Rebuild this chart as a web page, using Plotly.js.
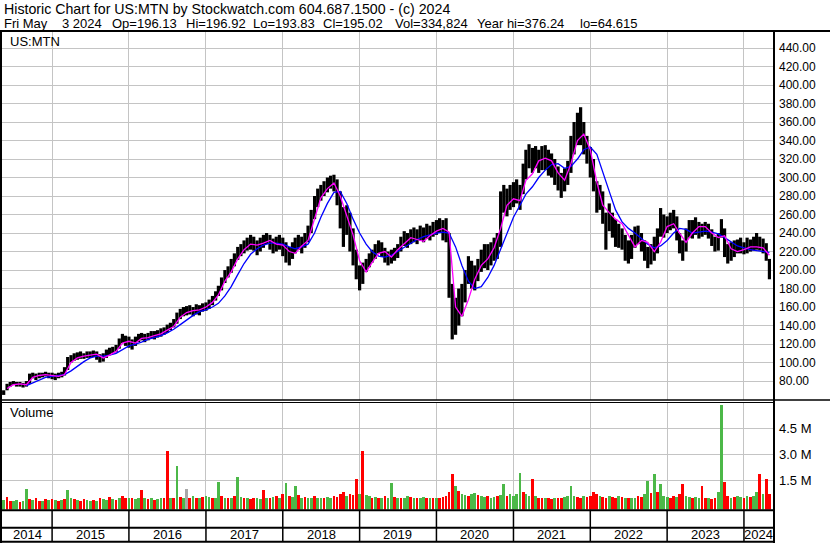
<!DOCTYPE html>
<html><head><meta charset="utf-8">
<script src="https://cdn.plot.ly/plotly-3.0.1.min.js"></script>
<style>html,body{margin:0;padding:0;background:#fff;overflow:hidden}#chart{width:830px;height:543px}</style>
</head><body><div id="chart"></div>
<script>
// ---- DATA (semi-monthly, 1st & 16th, from 2014-05-16 to 2024-05-01) ----
const priceClose = [
 68,74,77,78,76,77,75,78,86,87,84,86,87,88,86,
 86,84,86,87,90,102,104,106,107,108,107,109,108,110,107,104,106,110,112,113,115,122,126,124,
 122,120,124,127,128,126,128,130,129,131,133,134,138,140,143,150,153,155,156,157,155,158,157,160,
 161,163,168,172,178,186,195,198,205,212,218,222,226,228,230,228,224,228,232,235,230,226,228,230,
 226,218,215,222,228,230,226,232,240,258,270,278,285,288,292,296,295,282,265,248,255,240,220,205,
 190,200,205,210,215,220,225,222,215,212,214,216,220,228,234,232,235,238,236,240,238,242,240,244,
 245,248,242,240,200,140,150,160,165,180,205,195,190,200,210,215,212,215,220,225,265,275,270,278,
 280,285,278,300,315,325,320,322,318,322,320,315,312,305,300,290,298,305,325,345,355,360,340,330,
 315,295,275,280,262,240,255,245,238,235,232,220,215,225,238,240,228,218,210,215,225,238,255,245,
 250,255,258,240,225,215,235,245,242,248,240,245,244,240,232,225,230,248,220,215,218,222,228,225,
 222,228,226,230,232,228,224,220,195];
const priceHigh = [
 70,77,79,80,79,79,78,80,88,89,88,89,89,90,89,
 89,88,89,90,95,106,108,110,111,112,110,112,112,113,112,109,110,114,116,117,119,126,131,129,
 128,125,128,131,132,131,132,134,134,135,137,138,141,143,147,154,158,160,161,162,160,163,162,164,
 165,168,172,177,183,192,200,204,212,218,225,228,232,235,238,236,232,235,238,240,238,234,236,238,
 235,230,225,230,235,238,236,240,248,265,280,288,292,296,300,302,303,298,285,268,270,262,245,222,
 205,208,212,218,222,228,232,230,224,220,222,224,228,236,242,240,244,246,244,248,246,250,248,252,
 254,256,254,256,240,185,170,180,185,200,215,210,205,212,222,228,228,230,235,240,285,292,288,292,
 295,298,292,315,330,336,332,334,330,334,335,330,326,320,312,305,310,318,345,360,370,376,360,345,
 333,320,296,292,285,262,272,262,255,250,245,238,232,238,247,248,240,232,225,228,236,245,267,260,
 258,262,265,258,240,232,245,254,254,257,252,250,252,250,244,236,240,255,245,228,230,232,233,235,
 230,235,233,236,240,236,234,229,212];
const priceLow = [
 65,70,74,76,74,74,73,74,77,83,81,83,84,85,83,
 82,81,83,84,86,92,100,102,103,104,104,105,105,106,103,100,101,105,108,110,111,115,121,118,
 116,114,118,122,124,122,124,126,125,127,128,130,132,135,138,142,147,150,151,152,150,152,151,155,
 156,158,162,167,172,178,186,192,197,204,211,215,218,221,222,221,216,220,224,228,222,218,220,222,
 215,208,205,212,218,222,218,224,230,240,255,268,275,280,284,288,285,270,245,225,238,220,205,190,
 178,185,198,203,208,212,218,214,208,205,207,210,213,220,226,224,228,230,228,232,230,234,232,236,
 238,240,232,230,170,125,130,140,150,165,185,180,178,188,198,202,200,205,210,212,225,262,258,265,
 268,272,265,282,298,310,305,310,305,308,308,302,300,292,286,278,285,292,305,325,335,335,325,315,
 300,285,262,265,250,222,242,235,225,224,222,210,207,212,224,228,220,210,202,206,210,218,236,235,
 240,243,245,232,218,210,220,235,234,238,234,236,238,234,226,220,221,235,214,207,210,214,218,218,
 217,218,220,221,222,221,218,210,190];
// volume in millions of shares, same dates
const volumeM = [
 0.35,0.55,0.3,0.3,0.35,0.25,0.3,1.0,0.4,0.35,0.45,0.3,0.3,0.4,0.35,
 0.4,0.35,0.3,0.35,0.4,0.95,0.5,0.4,0.35,0.3,0.4,0.35,0.3,0.35,0.3,0.45,0.4,0.35,0.55,0.4,0.35,0.5,0.6,0.45,
 0.45,0.5,0.4,0.45,0.93,0.5,0.4,0.45,0.35,0.4,0.5,0.45,3.2,0.5,0.45,2.3,0.55,0.45,1.0,0.5,0.6,0.45,0.5,0.55,
 0.6,0.55,0.5,0.45,1.4,0.6,0.5,0.45,0.5,0.6,1.7,0.55,0.5,0.45,0.4,0.5,0.45,0.4,0.94,0.5,0.45,0.55,0.6,0.5,
 0.7,1.35,0.6,0.55,1.2,0.65,0.5,0.55,0.45,0.5,0.6,0.45,0.5,0.45,0.55,0.5,0.6,0.55,0.7,0.8,0.6,0.7,0.65,1.6,
 0.7,3.2,0.65,0.6,0.5,0.55,0.45,0.5,0.6,0.5,1.35,0.55,0.5,0.45,0.5,0.6,0.55,0.45,0.5,0.45,0.55,0.5,0.45,0.5,
 0.45,0.5,0.55,0.6,0.8,1.86,1.2,0.9,0.7,0.65,0.6,0.7,0.75,0.65,0.6,0.55,0.6,0.5,0.55,0.6,0.65,1.3,0.6,0.7,
 0.6,0.7,1.9,0.8,0.7,0.6,1.6,0.6,0.5,0.45,0.5,0.45,0.4,0.5,0.45,0.5,0.55,0.6,1.2,0.6,0.55,0.5,0.6,0.55,
 0.6,0.8,0.7,0.6,0.55,0.5,0.6,0.55,0.5,0.6,0.55,0.45,0.5,0.45,0.5,0.6,0.55,0.7,1.45,0.75,1.85,0.8,1.3,0.6,
 0.55,0.5,0.6,0.55,0.7,1.3,0.6,0.55,0.5,0.55,0.5,1.2,0.5,0.45,0.4,0.45,0.8,5.85,1.4,0.6,0.5,0.55,0.6,0.55,
 0.5,0.6,0.55,0.6,0.8,1.85,0.7,1.6,0.7];
// u = up (green), d = down (red), n = unchanged (grey)
const volumeDir = "udduuduududdudu" +
 "dududu"+"ududdu"+"ududuu"+"dududd" +
 "uduudu"+"duduud"+"dududu"+"ndudud" +
 "uuduud"+"ududuu"+"dudduu"+"dududu" +
 "duduud"+"uduudu"+"uduudd"+"dduddd" +
 "uduudu"+"duduud"+"uduudu"+"duudud" +
 "uddddd"+"uduudu"+"uduudu"+"uduudu" +
 "uuuduu"+"duddud"+"dudduu"+"uuddud" +
 "dddudd"+"uddudu"+"duuddu"+"ududuu" +
 "uddudd"+"uuduud"+"dudduu"+"dduduu" +
 "duduududd";
// moving averages, monthly (1st of month)
const maFast = [ // from 2014-06
 72,76,77,76,84,86,87,
 86,85,87,100,105,107,108,109,105,108,112,121,
 123,121,126,127,129,131,135,139,149,154,156,157,
 160,165,173,188,198,212,222,228,227,229,232,228,
 227,220,218,226,232,255,278,288,294,280,258,238,
 210,198,208,218,220,214,222,228,235,233,231,237,
 242,245,241,160,150,168,190,205,212,224,245,270,
 277,275,297,304,318,321,318,305,297,315,340,347,
 330,295,270,262,255,250,238,225,232,230,220,230,
 247,250,240,230,240,247,247,240,235,237,223,220,
 222,225,225,224,216];
const maSlow = [ // from 2014-09
 75,78,81,84,
 85,86,87,91,96,101,105,107,107,108,110,114,
 118,120,122,125,127,129,132,136,141,146,151,155,
 157,160,164,172,182,195,207,217,223,227,229,229,
 228,225,223,225,228,240,257,272,284,285,272,255,
 240,228,220,215,214,216,220,224,229,233,236,238,
 240,241,240,225,205,188,180,182,192,205,222,240,
 257,270,282,290,300,308,314,315,310,312,320,330,
 333,325,305,285,265,252,245,240,234,228,224,226,
 232,240,245,244,240,241,242,241,239,235,230,226,
 224,222,221,220,219];
const priceTicks = [80,100,120,140,160,180,200,220,240,260,280,300,320,340,360,380,400,420,440];
const volumeTicks = [1.5,3.0,4.5];
const volumeTickText = ["1.5 M","3.0 M","4.5 M"];
const yearLabels = [2014,2015,2016,2017,2018,2019,2020,2021,2022,2023,2024];
const headerLine1 = "Historic Chart for US:MTN by Stockwatch.com 604.687.1500 - (c) 2024";
const headerFields = ["Fri May","3 2024","Op=196.13","Hi=196.92","Lo=193.83","Cl=195.02","Vol=334,824","Year hi=376.24","lo=64.615"];
const symbol = "US:MTN";

// ---- helpers ----
const pad = n => String(n).padStart(2,'0');
function halfMonthDates(y,m,d,n){const o=[];for(let i=0;i<n;i++){o.push(`${y}-${pad(m)}-${pad(d)}`);if(d===1)d=16;else{d=1;m++;if(m>12){m=1;y++;}}}return o;}
function monthDates(y,m,n){const o=[];for(let i=0;i<n;i++){o.push(`${y}-${pad(m)}-01`);m++;if(m>12){m=1;y++;}}return o;}
const dates = halfMonthDates(2014,5,16,priceClose.length);
const fastDates = monthDates(2014,6,maFast.length);
const slowDates = monthDates(2014,9,maSlow.length);

const W=830,H=543;
const px=v=>v/W, py=v=>1-v/H;
const xRange=['2014-05-08','2024-05-18'];
const priceRange=[59.5,457.3];
const volRange=[-0.185,5.96];

const bx=[],by=[];
dates.forEach((d,i)=>{bx.push(d,d,null);by.push(priceLow[i],priceHigh[i],null);});
const font='"Liberation Sans", Arial, sans-serif';
const colMap={u:'#4cb848',d:'#ff0000',n:'#a8a8a8'};

const traces=[
 {type:'scatter',mode:'lines',x:bx,y:by,line:{color:'#000',width:3.2},hoverinfo:'skip',xaxis:'x',yaxis:'y'},
 {type:'scatter',mode:'lines',x:slowDates,y:maSlow,line:{color:'#0000ff',width:1.3},xaxis:'x',yaxis:'y'},
 {type:'scatter',mode:'lines',x:fastDates,y:maFast,line:{color:'#ff00ff',width:1.3},xaxis:'x',yaxis:'y'},
 {type:'bar',x:dates,y:volumeM.map(v=>v-volRange[0]),base:volRange[0],width:13*86400000,
  marker:{color:volumeDir.split('').map(c=>colMap[c]),line:{width:0}},xaxis:'x',yaxis:'y2'}
];

const shapes=[];
const L=(x0,y0,x1,y1,w)=>shapes.push({type:'line',xref:'paper',yref:'paper',x0:px(x0),y0:py(y0),x1:px(x1),y1:py(y1),line:{color:'#000',width:w}});
L(0,31,830,31,2);
L(1,31,1,543,2);
L(774,31,774,543,2);
L(0,400,830,400,1.5);
L(0,402.5,774,402.5,1);
L(0,510.3,774,510.3,2);
L(0,527.7,774,527.7,2);
L(0,541.7,774,541.7,2);
yearLabels.slice(1).forEach(y=>shapes.push({type:'line',xref:'x',yref:'paper',x0:`${y}-01-01`,x1:`${y}-01-01`,y0:py(541),y1:py(510),line:{color:'#000',width:1.5}}));

const ann=[];
ann.push({text:headerLine1,xref:'paper',yref:'paper',x:px(2),y:py(8.5),xanchor:'left',yanchor:'middle',showarrow:false,font:{family:font,size:14.2,color:'#000'}});
const fieldX=[2,60,110,184,251,321,393,475,578];
headerFields.forEach((t,i)=>ann.push({text:t,xref:'paper',yref:'paper',x:px(fieldX[i]),y:py(23),xanchor:'left',yanchor:'middle',showarrow:false,font:{family:font,size:13,color:'#000'}}));
ann.push({text:symbol,xref:'paper',yref:'paper',x:px(8),y:py(41),xanchor:'left',yanchor:'middle',showarrow:false,font:{family:font,size:13,color:'#000'}});
ann.push({text:'Volume',xref:'paper',yref:'paper',x:px(8),y:py(413),xanchor:'left',yanchor:'middle',showarrow:false,font:{family:font,size:13,color:'#000'}});
const t0=Date.parse(xRange[0]),t1=Date.parse(xRange[1]);
yearLabels.forEach(y=>{
  const a=Math.max(Date.parse(`${y}-01-01`),t0), b=Math.min(Date.parse(`${y+1}-01-01`),t1);
  ann.push({text:String(y),xref:'x',yref:'paper',x:new Date((a+b)/2).toISOString().slice(0,10),y:py(534.5),xanchor:'center',yanchor:'middle',showarrow:false,font:{family:font,size:13,color:'#000'}});
});

const layout={
 width:W,height:H,margin:{l:0,r:0,t:0,b:0},paper_bgcolor:'#fff',plot_bgcolor:'#fff',
 showlegend:false,hovermode:false,bargap:0,
 xaxis:{type:'date',range:xRange,domain:[px(2),px(773)],anchor:'y2',showticklabels:false,ticks:'',
  showgrid:true,gridcolor:'#c4c4c4',gridwidth:1,tick0:'2015-01-01',dtick:'M12',zeroline:false,showline:false},
 yaxis:{domain:[py(400),py(32)],range:priceRange,side:'right',anchor:'x',tickvals:priceTicks,ticktext:priceTicks.map(v=>v.toFixed(2)),
  showgrid:true,gridcolor:'#c4c4c4',gridwidth:1,zeroline:false,showline:false,ticks:'',ticklabelstandoff:5,
  tickfont:{family:font,size:12,color:'#000'}},
 yaxis2:{domain:[py(509.5),py(403)],range:volRange,side:'right',anchor:'x',tickvals:volumeTicks,ticktext:volumeTickText,
  showgrid:true,gridcolor:'#c4c4c4',gridwidth:1,zeroline:false,showline:false,ticks:'',ticklabelstandoff:5,
  tickfont:{family:font,size:13,color:'#000'}},
 shapes:shapes,annotations:ann
};
Plotly.newPlot('chart',traces,layout,{staticPlot:true,displayModeBar:false});
</script></body></html>
